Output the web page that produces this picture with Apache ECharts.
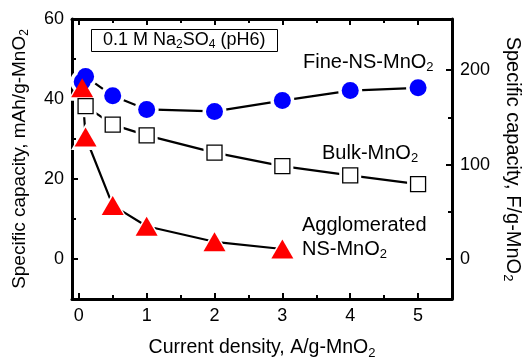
<!DOCTYPE html>
<html>
<head>
<meta charset="utf-8">
<script src="https://cdn.jsdelivr.net/npm/echarts@6/dist/echarts.min.js"></script>
<style>html,body{margin:0;padding:0;background:#fff}#c{width:522px;height:358px}</style>
</head>
<body>
<div id="c"></div>
<script>
// ---- data ----
const xFine = [0.05, 0.1, 0.5, 1, 2, 3, 4, 5];
const fine = [44.3, 45.6, 40.8, 37.4, 36.9, 39.6, 42.1, 42.8];
const xBulk = [0.1, 0.5, 1, 2, 3, 4, 5];
const bulk = [38.2, 33.6, 30.9, 26.6, 23.2, 20.9, 18.7];
const xAgg = [0.05, 0.1, 0.5, 1, 2, 3];
const agg = [42.8, 30.5, 13.4, 8.2, 4.3, 2.5];
const xMajor = [0, 1, 2, 3, 4, 5];
const xMinor = [0.5, 1.5, 2.5, 3.5, 4.5];
const yLeftMajor = [0, 20, 40, 60];
const yLeftMinor = [-10, 10, 30, 50];
const yRightMajor = [0, 100, 200];
const yRightMinor = [50, 150];
const F_PER_MAH = 3.6 / 0.85; // conversion of left axis to right axis

const FONT = 'Liberation Sans, Arial, sans-serif';
const pair = (xs, ys) => xs.map((x, i) => [x, ys[i]]);

const chart = echarts.init(document.getElementById('c'), null, {renderer: 'canvas'});
const LW = 3;
const xBase = {type: 'value', min: -0.1, max: 5.5, splitLine: {show: false}, gridIndex: 0};
const axLine = {show: true, onZero: false, lineStyle: {color: '#000', width: LW}};
const noLine = {show: false, onZero: false};
const LBL = 18;

const leftMin = -10, leftMax = 60;
function xAx(pos, major, showLabel, showLine) {
  return Object.assign({}, xBase, {
    position: pos,
    axisLine: showLine ? axLine : noLine,
    axisTick: {show: true, inside: true, length: major ? 6 : 4, lineStyle: {color: '#000', width: 2},
      customValues: major ? xMajor : xMinor},
    axisLabel: showLabel ? {show: true, customValues: xMajor, fontSize: LBL, fontFamily: FONT, color: '#000', margin: 8} : {show: false}
  });
}
function yAx(pos, min, max, major, minor, showLine, isMajor, showLabel) {
  return {
    type: 'value', position: pos, min: min, max: max, splitLine: {show: false},
    axisLine: showLine ? axLine : noLine,
    axisTick: {show: true, inside: true, length: isMajor ? 6 : 4, lineStyle: {color: '#000', width: 2},
      customValues: isMajor ? major : minor},
    axisLabel: showLabel ? {show: true, customValues: major, fontSize: LBL, fontFamily: FONT, color: '#000', margin: 8} : {show: false}
  };
}
function nameRich(fs) {
  return {m: {fontSize: fs, fontFamily: FONT, color: '#000'},
          s: {fontSize: Math.round(fs * 0.65), fontFamily: FONT, color: '#000', padding: [Math.round(fs * 0.55), 0, 0, 0]}};
}

const yLeft = yAx('left', leftMin, leftMax, yLeftMajor, yLeftMinor, true, true, true);
yLeft.name = '{m|Specific capacity, mAh/g-MnO}{s|2}';
yLeft.nameLocation = 'middle';
yLeft.nameGap = 41;
yLeft.nameTextStyle = {rich: nameRich(19)};
const yRight = yAx('right', leftMin * F_PER_MAH, leftMax * F_PER_MAH, yRightMajor, yRightMinor, true, true, true);
yRight.name = '{m|Specific capacity, F/g-MnO}{s|2}';
yRight.nameLocation = 'middle';
yRight.nameRotate = -90;
yRight.nameGap = 44;
yRight.nameTextStyle = {rich: nameRich(20)};

const xBottom = xAx('bottom', true, true, true);
xBottom.name = '{m|Current density, A/g-MnO}{s|2}';
xBottom.nameLocation = 'middle';
xBottom.nameGap = 37;
xBottom.nameTextStyle = {rich: nameRich(19.5)};

const series = [];
const sets = [
  {x: xFine, y: fine, sym: 'circle', size: 17, color: '#0000ff', border: '#0000ff', bw: 0},
  {x: xBulk, y: bulk, sym: 'rect', size: 15, color: '#ffffff', border: '#000', bw: 1.3},
  {x: xAgg, y: agg, sym: 'triangle', size: [22, 19], color: '#ff0000', border: '#ff0000', bw: 0}
];
sets.forEach(s => {
  series.push({type: 'line', data: pair(s.x, s.y), xAxisIndex: 0, yAxisIndex: 0, showSymbol: false,
    lineStyle: {color: '#000', width: 2.2}, z: 1, silent: true, animation: false});
});
sets.forEach(s => {
  const sz = Array.isArray(s.size) ? [s.size[0] + 7, s.size[1] + 7] : s.size + 7;
  series.push({type: 'scatter', data: pair(s.x, s.y), xAxisIndex: 0, yAxisIndex: 0, symbol: s.sym,
    symbolSize: sz, itemStyle: {color: '#fff', opacity: 1}, z: 2, silent: true, animation: false});
});
sets.forEach((s, i) => {
  series.push({type: 'scatter', data: pair(s.x, s.y), xAxisIndex: 0, yAxisIndex: 0, symbol: s.sym,
    symbolSize: s.size, itemStyle: {color: s.color, borderColor: s.border, borderWidth: s.bw, opacity: 1},
    z: 3 + i, silent: true, animation: false});
});

const AF = 20;
const txt = {fontSize: AF, fontFamily: FONT, color: '#000', fontWeight: 'normal', lineHeight: 24};
const subT = {fontSize: 13, fontFamily: FONT, color: '#000', padding: [11, 0, 0, 0]};
function title(text, left, top, extra) {
  return Object.assign({text: text, left: left, top: top, padding: 0,
    textStyle: Object.assign({}, txt, {rich: {m: txt, s: subT}})}, extra || {});
}

chart.setOption({
  animation: false,
  backgroundColor: '#fff',
  grid: {left: 72, top: 19, width: 380, height: 280, containLabel: false, outerBoundsMode: 'none'},
  xAxis: [xBottom, xAx('bottom', false, false, false), xAx('top', true, false, true), xAx('top', false, false, false)],
  yAxis: [yLeft, yAx('left', leftMin, leftMax, yLeftMajor, yLeftMinor, false, false, false),
    yRight, yAx('right', leftMin * F_PER_MAH, leftMax * F_PER_MAH, yRightMajor, yRightMinor, false, false, false)],
  title: [
    title('{m|Fine-NS-MnO}{s|2}', 303, 50),
    title('{m|Bulk-MnO}{s|2}', 322, 141),
    title('{m|Agglomerated}\n{m|NS-MnO}{s|2}', 302, 213),
    Object.assign(title('{m|0.1 M Na}{s|2}{m|SO}{s|4}{m| (pH6)}', 91, 28),
      {borderColor: '#000', borderWidth: 1, padding: [2, 12, 1, 12],
       textStyle: {fontSize: 18, fontFamily: FONT, color: '#000', fontWeight: 'normal',
         rich: {m: {fontSize: 18, fontFamily: FONT, color: '#000', lineHeight: 20},
                s: {fontSize: 12, fontFamily: FONT, color: '#000', padding: [9, 0, 0, 0]}}}})
  ],
  series: series
});
</script>
</body>
</html>
